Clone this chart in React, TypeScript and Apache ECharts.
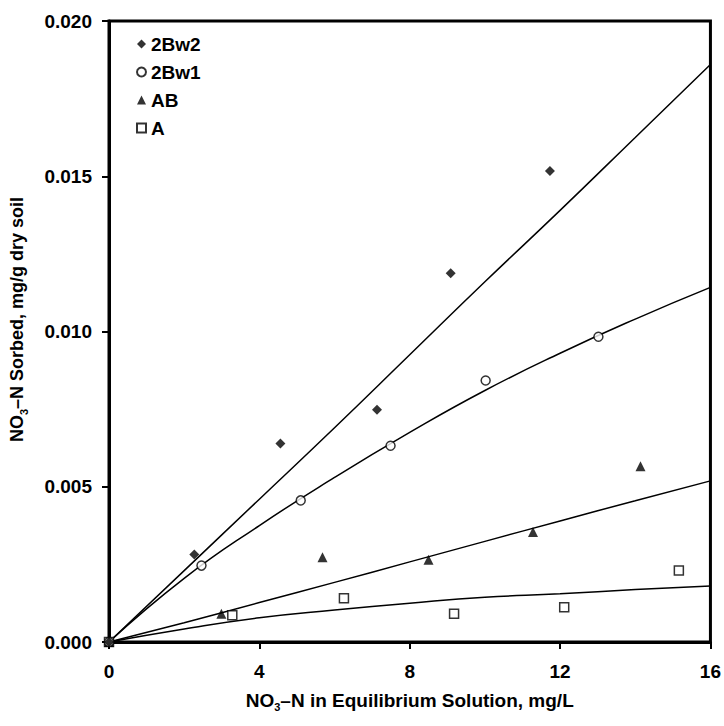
import React, { useEffect, useRef } from "react";
import * as echarts from "echarts";

// Measured points (x: mg/L, y: mg/g)
const s2Bw2: [number, number][] = [
  [0, 0], [2.27, 0.00282], [4.56, 0.00639], [7.13, 0.00748], [9.09, 0.01188], [11.73, 0.01517],
];
const s2Bw1: [number, number][] = [
  [0, 0], [2.46, 0.00246], [5.1, 0.00456], [7.49, 0.00632], [10.02, 0.00842], [13.02, 0.00983],
];
const sAB: [number, number][] = [
  [0, 0], [2.99, 0.00091], [5.68, 0.00273], [8.5, 0.00265], [11.28, 0.00354], [14.14, 0.00566],
];
const sA: [number, number][] = [
  [0, 0], [3.28, 0.00086], [6.25, 0.00141], [9.18, 0.00091], [12.11, 0.00112], [15.16, 0.0023],
];

// Fitted curves at x = 0, 2, ..., 16
const fitX = [0, 2, 4, 6, 8, 10, 12, 14, 16];
const fit2Bw2 = [0, 0.0023, 0.0046, 0.0069, 0.00925, 0.0116, 0.0139, 0.01625, 0.0186];
const fit2Bw1 = [0, 0.00205, 0.00375, 0.0053, 0.00675, 0.0081, 0.0093, 0.0104, 0.01142];
const fitAB = [0, 0.00062, 0.00127, 0.00192, 0.00258, 0.00324, 0.0039, 0.00455, 0.00519];
const fitA = [0, 0.00042, 0.00078, 0.00103, 0.00125, 0.00144, 0.00155, 0.00169, 0.0018];

const xTicks = { min: 0, max: 16, interval: 4 };
const yTicks = { min: 0, max: 0.02, interval: 0.005 };

const FONT = "'Liberation Sans', Arial, sans-serif";

export default function App() {
  const ref = useRef<HTMLDivElement>(null);
  useEffect(() => {
    if (!ref.current) return;
    const chart = echarts.init(ref.current, null, { renderer: "svg" });
    const pair = (xs: number[], ys: number[]) => xs.map((x, i) => [x, ys[i]]);
    const fitLine = (name: string, data: number[][]) => ({
      name,
      type: "line",
      data,
      smooth: true,
      showSymbol: false,
      symbol: "none",
      silent: true,
      lineStyle: { color: "#000", width: 1.5 },
      z: 2,
    });
    const scatter = (name: string, data: number[][], symbol: string, size: number, filled: boolean) => ({
      name,
      type: "scatter",
      data,
      symbol,
      symbolSize: size,
      itemStyle: filled
        ? { color: "#000", borderColor: "#000", borderWidth: 0 }
        : { color: "#fff", borderColor: "#000", borderWidth: 1.5 },
      z: 5,
    });
    const richName = (size: number) => ({
      n: { fontSize: size, fontWeight: "bold", fontFamily: FONT, color: "#000", lineHeight: 24 },
      s: { fontSize: 11, fontWeight: "bold", fontFamily: FONT, color: "#000", lineHeight: 12, verticalAlign: "bottom" },
    });
    chart.setOption({
      animation: false,
      backgroundColor: "#fff",
      grid: {
        left: 107,
        right: 11,
        top: 21,
        bottom: 84,
        show: true,
        borderColor: "#000",
        borderWidth: 3,
        backgroundColor: "transparent",
      },
      legend: {
        data: ["2Bw2", "2Bw1", "AB", "A"],
        orient: "vertical",
        left: 131,
        top: 29,
        itemWidth: 9,
        itemHeight: 9,
        itemGap: 8,
        textStyle: { fontSize: 19, fontWeight: "bold", fontFamily: FONT, color: "#000", lineHeight: 20 },
      },
      xAxis: {
        type: "value",
        ...xTicks,
        name: "{n|NO}{s|3}{n|–N in Equilibrium Solution, mg/L}",
        nameLocation: "middle",
        nameGap: 46,
        nameTextStyle: { rich: richName(19) },
        axisLine: { show: true, onZero: false, lineStyle: { color: "#000", width: 3 } },
        axisTick: { show: true, length: 7, lineStyle: { color: "#000", width: 2 } },
        axisLabel: { fontSize: 19, fontWeight: "bold", fontFamily: FONT, color: "#000", margin: 20 },
        splitLine: { show: false },
      },
      yAxis: {
        type: "value",
        ...yTicks,
        name: "{n|NO}{s|3}{n|–N Sorbed, mg/g dry soil}",
        nameLocation: "middle",
        nameGap: 80,
        nameTextStyle: { rich: richName(18), padding: [0, 0, 0, 24] },
        axisLine: { show: true, onZero: false, lineStyle: { color: "#000", width: 3 } },
        axisTick: { show: true, length: 7, lineStyle: { color: "#000", width: 2 } },
        axisLabel: {
          fontSize: 19,
          fontWeight: "bold",
          fontFamily: FONT,
          color: "#000",
          margin: 17,
          formatter: (v: number) => v.toFixed(3),
        },
        splitLine: { show: false },
      },
      series: [
        fitLine("fit 2Bw2", pair(fitX, fit2Bw2)),
        fitLine("fit 2Bw1", pair(fitX, fit2Bw1)),
        fitLine("fit AB", pair(fitX, fitAB)),
        fitLine("fit A", pair(fitX, fitA)),
        scatter("A", sA, "rect", 9, false),
        scatter("AB", sAB, "triangle", 10, true),
        scatter("2Bw1", s2Bw1, "circle", 9, false),
        scatter("2Bw2", s2Bw2, "diamond", 10, true),
      ],
    });
    return () => chart.dispose();
  }, []);
  return (
    <div
      ref={ref}
      style={{ position: "absolute", left: 0, top: 0, width: 724, height: 726 }}
    />
  );
}
